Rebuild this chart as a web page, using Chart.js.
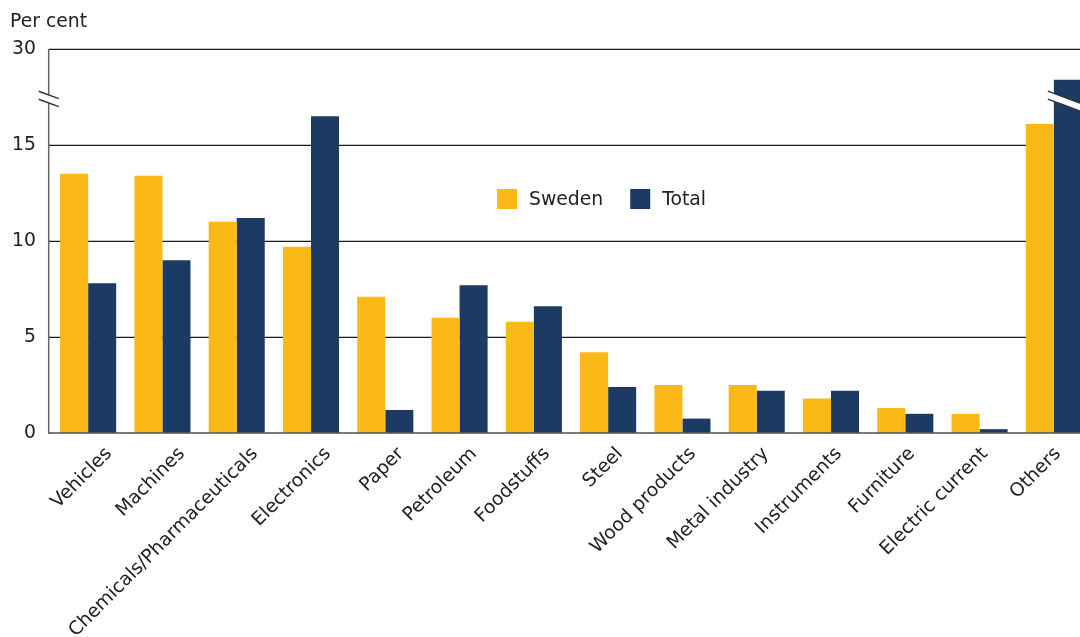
<!DOCTYPE html>
<html><head><meta charset="utf-8">
<script src="https://cdn.jsdelivr.net/npm/chart.js@4.4.0/dist/chart.umd.min.js"></script>
<style>
html,body{margin:0;padding:0;background:#fff;overflow:hidden;}
#wrap{position:relative;width:1091px;height:637px;}
</style></head><body>
<div id="wrap"><canvas id="c"></canvas></div>
<script>
const categories = ["Vehicles","Machines","Chemicals/Pharmaceuticals","Electronics","Paper","Petroleum","Foodstuffs","Steel","Wood products","Metal industry","Instruments","Furniture","Electric current","Others"];
const sweden = [13.5,13.4,11.0,9.7,7.1,6.0,5.8,4.2,2.5,2.5,1.8,1.3,1.0,16.1];
const total  = [7.8,9.0,11.2,16.5,1.2,7.7,6.6,2.4,0.75,2.2,2.2,1.0,0.2,28.4];
const seriesNames = ["Sweden","Total"];
const seriesColors = ["#FBB817","#1B3A64"];
const yTicks = [0,5,10,15,30];
const unitLabel = "Per cent";
// Broken axis: real values above BREAK_CUT are shifted down by BREAK_GAP
const BREAK_CUT = 20, BREAK_GAP = 10, BREAK_MARK = 17.4;
const toDisplay = v => v > BREAK_CUT ? v - BREAK_GAP : v;

const FONT = "'DejaVu Sans', sans-serif";
const FSIZE = 18.8;
Chart.defaults.font.family = FONT;
Chart.defaults.font.size = FSIZE;
Chart.defaults.color = '#222';

function drawBreak(ctx, x0, x1, xa, ya, gap, slope){
  const yA = x => ya + (x - xa) * slope;
  ctx.save();
  ctx.fillStyle = '#fff';
  ctx.beginPath();
  ctx.moveTo(x0, yA(x0) - gap/2);
  ctx.lineTo(x1, yA(x1) - gap/2);
  ctx.lineTo(x1, yA(x1) + gap/2);
  ctx.lineTo(x0, yA(x0) + gap/2);
  ctx.closePath();
  ctx.fill();
  ctx.strokeStyle = '#333';
  ctx.lineWidth = 1.4;
  ctx.beginPath();
  ctx.moveTo(x0, yA(x0) - gap/2); ctx.lineTo(x1, yA(x1) - gap/2);
  ctx.moveTo(x0, yA(x0) + gap/2); ctx.lineTo(x1, yA(x1) + gap/2);
  ctx.stroke();
  ctx.restore();
}

const AXIS_SHIFT = 2.3;

const decor = {
  id: 'decor',
  beforeDatasetsDraw(chart){
    const ctx = chart.ctx, ca = chart.chartArea, ys = chart.scales.y;
    const ax = ca.left - AXIS_SHIFT;
    ctx.save();
    ctx.strokeStyle = '#1a1a1a';
    ctx.lineWidth = 1.2;
    yTicks.forEach(t => {
      if (t === 0) return;
      const y = Math.round(ys.getPixelForValue(toDisplay(t))) + 0.4;
      ctx.beginPath(); ctx.moveTo(ax, y); ctx.lineTo(ca.right, y); ctx.stroke();
    });
    ctx.strokeStyle = '#666';
    ctx.lineWidth = 1.5;
    ctx.beginPath(); ctx.moveTo(ax, ca.top); ctx.lineTo(ax, ys.getPixelForValue(0)); ctx.stroke();
    ctx.restore();
  },
  afterDatasetsDraw(chart){
    const ctx = chart.ctx, ca = chart.chartArea, ys = chart.scales.y;
    const ax = ca.left - AXIS_SHIFT;
    const y0 = ys.getPixelForValue(0);
    ctx.save();
    ctx.strokeStyle = 'rgba(90,90,90,0.8)';
    ctx.lineWidth = 2;
    ctx.beginPath(); ctx.moveTo(ax - 0.7, y0); ctx.lineTo(ca.right, y0); ctx.stroke();
    ctx.restore();
    const yb = ys.getPixelForValue(BREAK_MARK);
    drawBreak(ctx, ax - 10, ax + 10, ax, yb, 8, 0.37);
    chart.data.datasets.forEach((ds, di) => {
      const meta = chart.getDatasetMeta(di);
      const vals = di === 0 ? sweden : total;
      vals.forEach((v, i) => {
        if (v > BREAK_CUT) {
          const bar = meta.data[i];
          const left = bar.x - bar.width/2;
          drawBreak(ctx, left - 6, left + bar.width + 4, left, yb - 1.5, 8, 0.37);
        }
      });
    });
  },
  afterDraw(chart){
    const ctx = chart.ctx, ca = chart.chartArea, ys = chart.scales.y;
    ctx.save();
    ctx.font = FSIZE + "px " + FONT;
    ctx.fillStyle = '#222';
    ctx.textBaseline = 'middle';
    ctx.textAlign = 'left';
    ctx.fillText(unitLabel, 10, 22);
    // category labels (rotated 45deg), spaced slightly tighter than the bars as in the source
    const y0 = ys.getPixelForValue(0);
    const step = ca.width * 0.7019 / 10;
    ctx.textAlign = 'right';
    categories.forEach((lab, i) => {
      ctx.save();
      ctx.translate(ca.left + 58 + i * step, y0 + 18);
      ctx.rotate(-Math.PI / 4);
      ctx.fillText(lab, 0, 0);
      ctx.restore();
    });
    // legend
    ctx.textAlign = 'left';
    let x = ca.left + 446, y = ca.top + 140;
    chart.data.datasets.forEach((ds, i) => {
      ctx.fillStyle = ds.backgroundColor;
      ctx.fillRect(x, y, 20, 20);
      ctx.fillStyle = '#222';
      ctx.fillText(ds.label, x + 32, y + 11);
      x += 32 + ctx.measureText(ds.label).width + 27;
    });
    ctx.restore();
  }
};

new Chart(document.getElementById('c'), {
  type: 'bar',
  data: {
    labels: categories,
    datasets: [
      { label: seriesNames[0], data: sweden.map(toDisplay), backgroundColor: seriesColors[0] },
      { label: seriesNames[1], data: total.map(toDisplay), backgroundColor: seriesColors[1] }
    ]
  },
  options: {
    responsive: true,
    maintainAspectRatio: false,
    animation: false,
    events: [],
    layout: { padding: { top: 49, left: 0, right: 0, bottom: 0 } },
    datasets: { bar: { categoryPercentage: 0.755, barPercentage: 1.0, borderWidth: 0 } },
    plugins: { legend: { display: false }, tooltip: { enabled: false } },
    scales: {
      x: {
        grid: { display: false, drawTicks: false },
        border: { display: false },
        ticks: { display: false },
        afterFit(s){ s.height = 204; s.paddingLeft = 0; s.paddingRight = 0; }
      },
      y: {
        min: 0, max: toDisplay(yTicks[yTicks.length-1]),
        afterBuildTicks(s){ s.ticks = yTicks.map(t => ({ value: toDisplay(t) })); },
        ticks: { padding: 15, color: '#222', font: { size: FSIZE },
          callback: (v, i) => String(yTicks[i]) },
        grid: { display: false, drawTicks: false },
        border: { display: false },
        afterFit(s){ s.width = 51; }
      }
    }
  },
  plugins: [decor]
});
</script>
</body></html>
